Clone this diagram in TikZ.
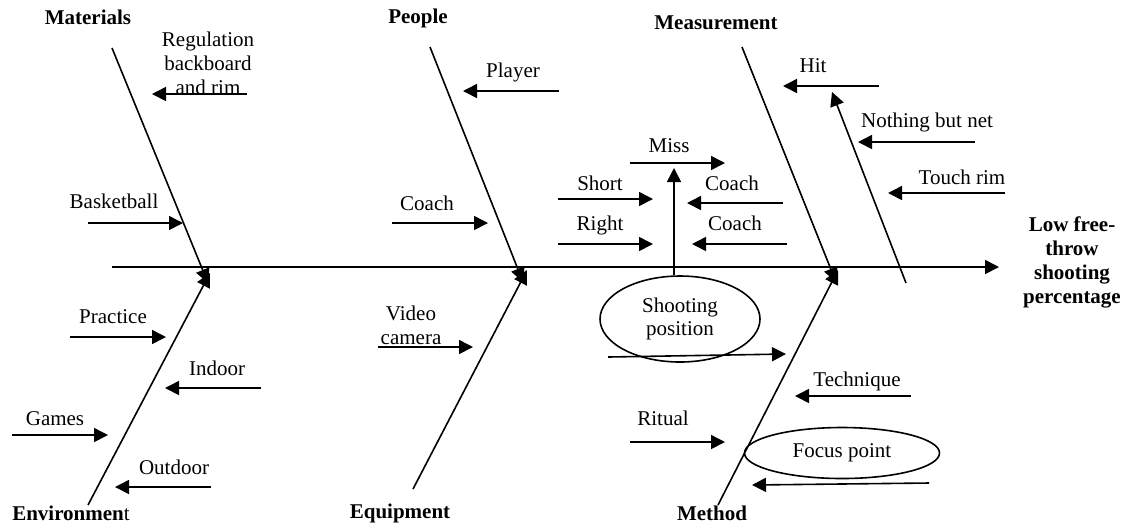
\documentclass[tikz,border=0pt]{standalone}
\usepackage{fontspec}
\setmainfont{Liberation Serif}
\usetikzlibrary{arrows.meta,shapes.geometric}

\tikzset{
  cause/.style={font=\fontsize{10.5}{12}\selectfont, align=center, inner sep=0pt},
  category/.style={font=\fontsize{10.5}{12}\selectfont\bfseries, align=center, inner sep=0pt},
  bone/.style={line width=0.8pt, -{Triangle[length=7pt,width=7pt]}},
  blob/.style={ellipse, draw, line width=0.8pt, inner sep=0pt, align=center,
    font=\fontsize{10.5}{11.5}\selectfont}
}

\begin{document}
\begin{tikzpicture}[x=0.5pt, y=-0.5pt]
        \useasboundingbox (0,0) rectangle (1138,527);

        % spine
        \coordinate (tail) at (112,267);
        \coordinate (head) at (999,267);
        \draw[bone] (tail) -- (head);
        \node[category] (effect) at (1072,262) {Low free-\\throw\\shooting\\percentage};

        % category bones
        \node[category] (materials) at (88,17) {Materials};
        \node[category] (people) at (418,18) {People};
        \node[category] (measurement) at (716,23) {Measurement};
        \node[category] (environment) at (71,513) {Environmen\mdseries t};
        \node[category] (equipment) at (400,513) {Equipment};
        \node[category] (method) at (712,513) {Method};

        \coordinate (mat top) at (112,48);   \coordinate (mat end) at (208,283);
        \coordinate (env bot) at (88,505);   \coordinate (env end) at (210,273);
        \coordinate (peo top) at (430,47);   \coordinate (peo end) at (523,282);
        \coordinate (equ bot) at (413,489);  \coordinate (equ end) at (527,270);
        \coordinate (mea top) at (742,47);   \coordinate (mea end) at (836,282);
        \coordinate (met bot) at (718,505);  \coordinate (met end) at (838,270);
        \coordinate (hit low) at (906,283);  \coordinate (hit up) at (832,92);
        \draw[bone] (mat top) -- (mat end);
        \draw[bone] (env bot) -- (env end);
        \draw[bone] (peo top) -- (peo end);
        \draw[bone] (equ bot) -- (equ end);
        \draw[bone] (mea top) -- (mea end);
        \draw[bone] (met bot) -- (met end);
        \draw[bone] (hit low) -- (hit up);

        % materials
        \node[cause] (regulation) at (208,63) {Regulation\\backboard\\and rim};
        \node[cause] (basketball) at (114,201) {Basketball};
        \coordinate (reg a) at (247,94);  \coordinate (reg b) at (152,94);
        \coordinate (ball a) at (88,223); \coordinate (ball b) at (183,223);
        \draw[bone] (reg a) -- (reg b);
        \draw[bone] (ball a) -- (ball b);

        % people
        \node[cause] (player) at (513,72) {Player};
        \node[cause] (coach) at (427,203) {Coach};
        \coordinate (player a) at (559,91); \coordinate (player b) at (463,91);
        \coordinate (coach a) at (392,223); \coordinate (coach b) at (488,223);
        \draw[bone] (player a) -- (player b);
        \draw[bone] (coach a) -- (coach b);

        % shooting position
        \node[blob, minimum width=80pt, minimum height=43pt] (shooting) at (680,319) {Shooting\\position};
        \node[cause] (miss) at (669,146) {Miss};
        \node[cause] (short) at (600,183) {Short};
        \node[cause] (right) at (600,225) {Right};
        \node[cause] (coach up) at (732,183) {Coach};
        \node[cause] (coach low) at (735,223) {Coach};
        \coordinate (miss up) at (674,168);
        \draw[bone] (miss up |- shooting.north) -- (miss up);
        \coordinate (miss a) at (630,163);  \coordinate (miss b) at (725,163);
        \coordinate (short a) at (558,199); \coordinate (short b) at (653,199);
        \coordinate (right a) at (558,244); \coordinate (right b) at (653,244);
        \coordinate (cup a) at (783,203);   \coordinate (cup b) at (687,203);
        \coordinate (clow a) at (787,244);  \coordinate (clow b) at (692,244);
        \coordinate (spos a) at (608,357);  \coordinate (spos b) at (786,354);
        \draw[bone] (miss a) -- (miss b);
        \draw[bone] (short a) -- (short b);
        \draw[bone] (right a) -- (right b);
        \draw[bone] (cup a) -- (cup b);
        \draw[bone] (clow a) -- (clow b);
        \draw[bone] (spos a) -- (spos b);

        % measurement
        \node[cause] (hit) at (813,66) {Hit};
        \node[cause] (net) at (927,122) {Nothing but net};
        \node[cause] (touch) at (962,177) {Touch rim};
        \coordinate (hit a) at (879,86);  \coordinate (hit b) at (783,86);
        \coordinate (net a) at (975,142); \coordinate (net b) at (858,142);
        \coordinate (rim a) at (1005,193); \coordinate (rim b) at (888,193);
        \draw[bone] (hit a) -- (hit b);
        \draw[bone] (net a) -- (net b);
        \draw[bone] (rim a) -- (rim b);

        % environment
        \node[cause] (practice) at (113,317) {Practice};
        \node[cause] (indoor) at (217,368) {Indoor};
        \node[cause] (games) at (55,419) {Games};
        \node[cause] (outdoor) at (174,467) {Outdoor};
        \coordinate (prac a) at (70,337);  \coordinate (prac b) at (166,337);
        \coordinate (ind a) at (261,388);  \coordinate (ind b) at (165,388);
        \coordinate (gam a) at (12,435);   \coordinate (gam b) at (108,435);
        \coordinate (out a) at (211,487);  \coordinate (out b) at (115,487);
        \draw[bone] (prac a) -- (prac b);
        \draw[bone] (ind a) -- (ind b);
        \draw[bone] (gam a) -- (gam b);
        \draw[bone] (out a) -- (out b);

        % equipment
        \node[cause] (video) at (411,325) {Video\\camera};
        \coordinate (vid a) at (378,347); \coordinate (vid b) at (473,347);
        \draw[bone] (vid a) -- (vid b);

        % method
        \node[blob, minimum width=97.5pt, minimum height=25.5pt] (focus) at (842,453) {Focus point};
        \node[cause] (ritual) at (663,418) {Ritual};
        \node[cause] (technique) at (857,381) {Technique};
        \coordinate (rit a) at (630,442);  \coordinate (rit b) at (725,442);
        \coordinate (tec a) at (911,396);  \coordinate (tec b) at (795,396);
        \coordinate (foc a) at (929,483);  \coordinate (foc b) at (752,485);
        \draw[bone] (rit a) -- (rit b);
        \draw[bone] (tec a) -- (tec b);
        \draw[bone] (foc a) -- (foc b);
\end{tikzpicture}
\end{document}
